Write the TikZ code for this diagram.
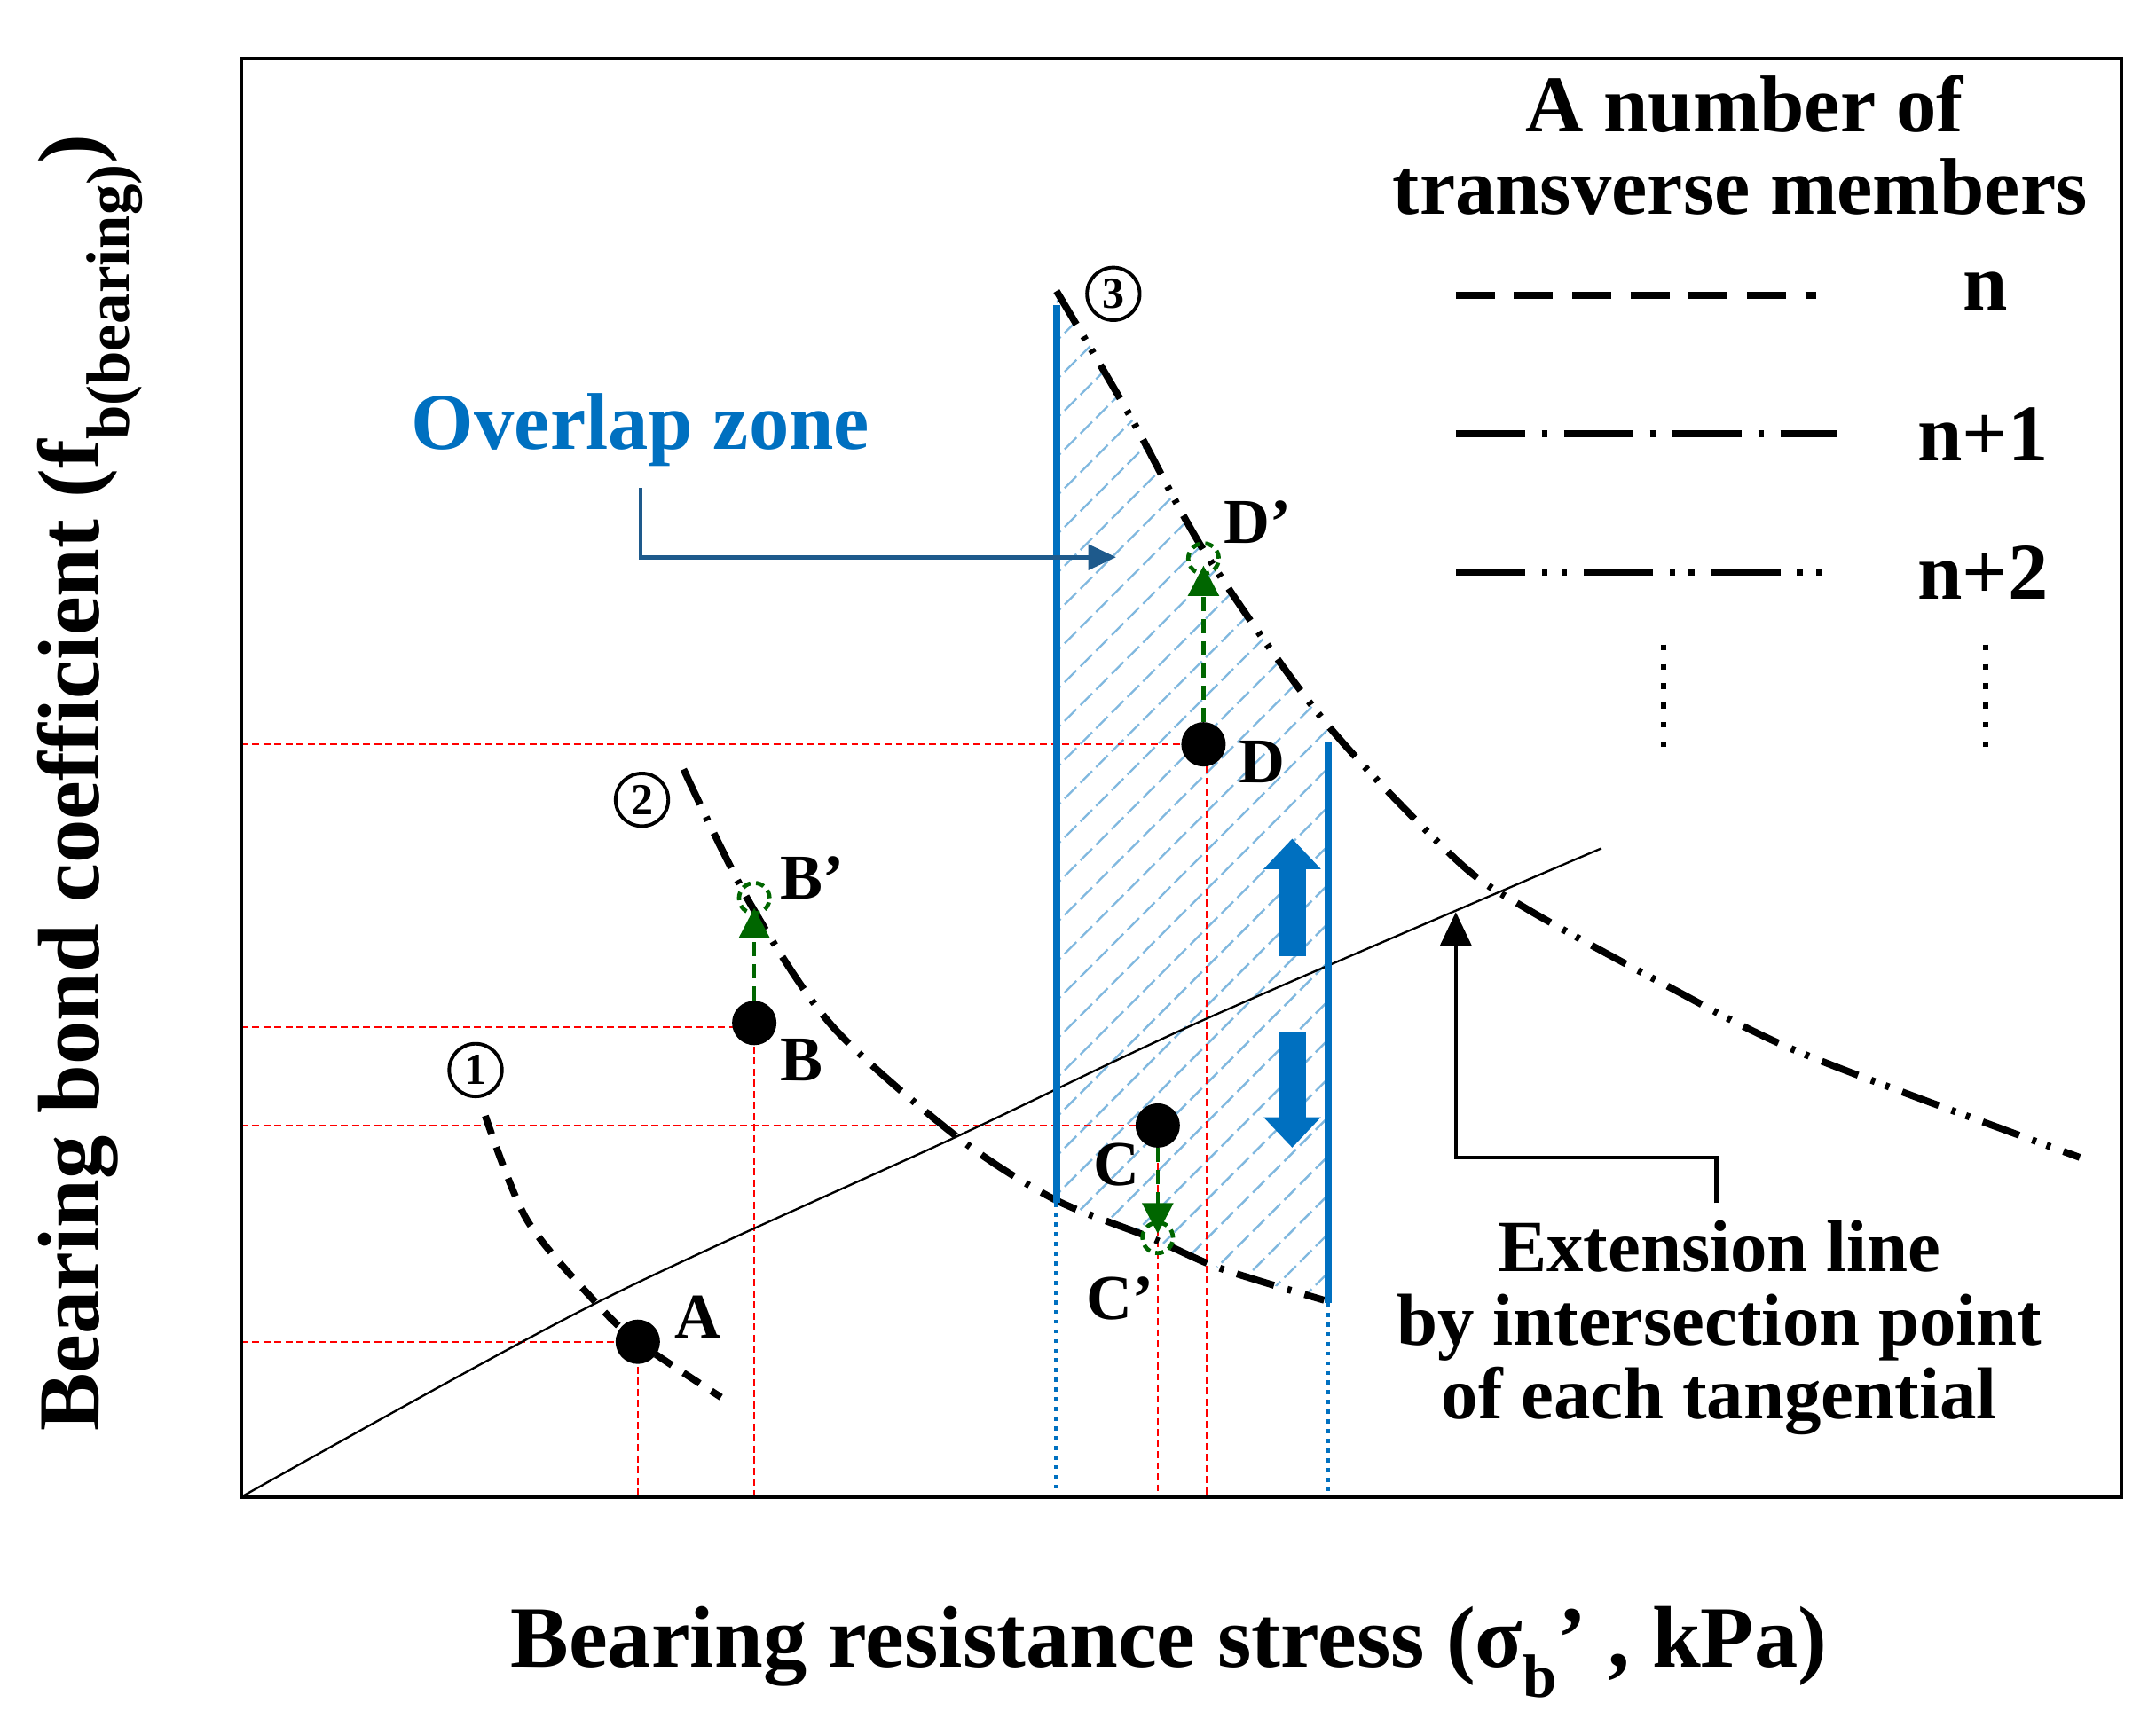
\documentclass[tikz,border=0pt]{standalone}
\usepackage{fontspec}
\setmainfont{Liberation Serif}
\usetikzlibrary{arrows.meta}
\begin{document}
\begin{tikzpicture}[x=1pt,y=-1pt,
 lbl/.style={font=\fontsize{46}{50}\selectfont\bfseries},
 big/.style={font=\fontsize{58}{62}\selectfont\bfseries},
 leg/.style={font=\fontsize{58}{62}\selectfont\bfseries},
 red/.style={draw=red,line width=1.3pt,dash pattern=on 5pt off 3pt},
 dot/.style={circle,fill=black,inner sep=0pt,minimum size=32pt},
 gcirc/.style={circle,draw=green!40!black,line width=3pt,dash pattern=on 6pt off 4pt,inner sep=0pt,minimum size=22pt},
 garr/.style={draw=green!40!black,line width=3pt,dash pattern=on 10pt off 6pt,-{Triangle[length=22pt,width=22pt]}},
 bthick/.style={draw={rgb,255:red,0;green,112;blue,192},line width=5pt},
 bdot/.style={draw={rgb,255:red,0;green,112;blue,192},line width=3pt,dash pattern=on 3pt off 4pt},
 crv/.style={line width=5pt}]
\useasboundingbox (0,0) rectangle (1555,1234);
\definecolor{ozb}{RGB}{0,112,192}
% hatch
\begin{scope}
\clip (762,215) -- (762,868) -- (800,882) -- (830,893) -- (880,915) -- (958,940) -- (958,520) -- (910,460) -- (870,400) -- (840,345) -- (815,300) -- (790,255) -- cycle;
\foreach \k in {0,28,...,1400} \draw[ozb!50,line width=1.5pt,dash pattern=on 12pt off 4pt] (700,\k) -- ++(600,-600);
\end{scope}
% red guides
\draw[red] (174,968) -- (460,968) -- (460,1080);
\draw[red] (174,741) -- (544,741) -- (544,1080);
\draw[red] (174,812) -- (835,812) -- (835,1080);
\draw[red] (174,537) -- (870,537) -- (870,1080);
% tangential line
\draw[line width=1.5pt] plot[smooth] coordinates {(174,1080)(430,940)(690,820)(870,735)(1155,612)};
% curves
\draw[crv,dash pattern=on 14pt off 10pt] plot[smooth] coordinates {(350,805)(380,880)(430,940)(460,968)(520,1008)};
\draw[crv,dash pattern=on 28pt off 10pt on 3pt off 10pt] plot[smooth] coordinates {(493,555)(540,650)(600,740)(690,820)(760,865)(830,893)(880,915)(955,938)};
\draw[crv,dash pattern=on 28pt off 10pt on 3pt off 8pt on 3pt off 10pt] plot[smooth] coordinates {(762,210)(815,300)(870,400)(955,520)(1050,620)(1100,655)(1200,710)(1300,760)(1500,835)};
% circled numbers
\foreach \p/\t in {{(343,772)}/1,{(463,577)}/2,{(803,212)}/3}
 \node[circle,draw,line width=2.5pt,minimum size=38pt,inner sep=0pt,font=\fontsize{32}{32}\selectfont\bfseries] at \p {\t};
% blue verticals
\draw[bthick] (762,220) -- (762,868); \draw[bdot] (762,868) -- (762,1080);
\draw[bthick] (958,535) -- (958,940); \draw[bdot] (958,940) -- (958,1080);
% points
\node[dot] (A) at (460,968) {}; \node[lbl] at (503,950) {A};
\node[dot] (B) at (544,738) {}; \node[lbl] at (578,765) {B};
\node[dot] (C) at (835,812) {}; \node[lbl] at (805,840) {C};
\node[dot] (D) at (868,537) {}; \node[lbl] at (910,550) {D};
\node[gcirc] (Bp) at (544,648) {}; \node[lbl] at (586,633) {B'};
\node[gcirc] (Dp) at (868,403) {}; \node[lbl] at (907,377) {D'};
\node[gcirc] (Cp) at (835,893) {}; \node[lbl] at (808,937) {C'};
\draw[garr] (B) -- (544,655);
\draw[garr] (D) -- (868,408);
\draw[garr] (C) -- (835,890);
% overlap zone
\node[big,text=ozb] (oz) at (462,310) {Overlap zone};
\coordinate (oe) at (805,402);
\draw[draw={rgb,255:red,30;green,90;blue,140},line width=3pt,-{Triangle[length=20pt,width=18pt]}] (462,352) -- (462,402) -- (oe);
% blue block arrows
\draw[ozb,line width=20pt,-{Triangle[length=22pt,width=40pt]}] (932,690) -- (932,605);
\draw[ozb,line width=20pt,-{Triangle[length=22pt,width=40pt]}] (932,745) -- (932,828);
% extension arrow
\coordinate (ip) at (1050,658);
\draw[line width=3pt,-{Triangle[length=24pt,width=22pt]}] (1238,868) -- (1238,835) -- (1050,835) -- (ip);
\node[align=center,font=\fontsize{53}{53}\selectfont\bfseries] at (1240,958) {Extension line\\by intersection point\\of each tangential};
% legend
\node[leg] at (1258,75) {A number of};
\node[leg] at (1255,135) {transverse members};
\draw[crv,dash pattern=on 28pt off 14pt] (1050,213) -- (1310,213);
\draw[crv,dash pattern=on 50pt off 12pt on 4pt off 12pt] (1050,313) -- (1325,313);
\draw[crv,dash pattern=on 50pt off 12pt on 4pt off 10pt on 4pt off 12pt] (1050,413) -- (1325,413);
\node[leg] at (1432,210) {n};
\node[leg] at (1430,313) {n+1};
\node[leg] at (1430,413) {n+2};
\draw[line width=4pt,dash pattern=on 4pt off 10pt] (1200,465) -- (1200,540);
\draw[line width=4pt,dash pattern=on 4pt off 10pt] (1432,465) -- (1432,540);
% frame
\draw[line width=2.5pt] (174,42) rectangle (1530,1080);
% axis labels
\node[font=\fontsize{63}{66}\selectfont\bfseries,rotate=90] at (65,565) {Bearing bond coefficient (f\textsubscript{b(bearing)})};
\node[font=\fontsize{63}{66}\selectfont\bfseries] at (843,1192) {Bearing resistance stress (σ\textsubscript{b}' , kPa)};
\end{tikzpicture}
\end{document}
